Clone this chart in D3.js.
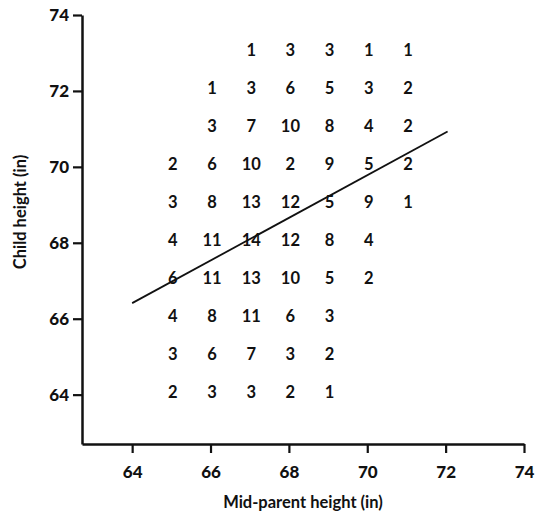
<!DOCTYPE html>
<html>
<head>
<meta charset="utf-8">
<script src="https://cdn.jsdelivr.net/npm/d3@7"></script>
<style>
  body { margin: 0; background: #fff; }
  text { font-family: Lato, "Open Sans", sans-serif; font-weight: bold; fill: #111; }
</style>
</head>
<body>
<svg id="chart" width="535" height="512"></svg>
<script>
// mid-parent heights (columns) and child heights (rows)
let parentHeights = [65, 66, 67, 68, 69, 70, 71];
let childHeights = [73, 72, 71, 70, 69, 68, 67, 66, 65, 64];

// counts per row (top to bottom), null = empty cell
let counts = [
  [null, null, 1, 3, 3, 1, 1],
  [null, 1, 3, 6, 5, 3, 2],
  [null, 3, 7, 10, 8, 4, 2],
  [2, 6, 10, 2, 9, 5, 2],
  [3, 8, 13, 12, 5, 9, 1],
  [4, 11, 14, 12, 8, 4, null],
  [6, 11, 13, 10, 5, 2, null],
  [4, 8, 11, 6, 3, null, null],
  [3, 6, 7, 3, 2, null, null],
  [2, 3, 3, 2, 1, null, null]
];

// regression line end points
let fitLine = [{x: 64, y: 66.41}, {x: 72.05, y: 70.93}];

let xTicks = [64, 66, 68, 70, 72, 74];
let yTicks = [64, 66, 68, 70, 72, 74];

let svg = d3.select('#chart');

let xScale = d3.scaleLinear()
  .domain([62.72, 74])
  .range([82, 524]);

let yScale = d3.scaleLinear()
  .domain([62.7, 74])
  .range([444, 15]);

let cells = [];
childHeights.forEach((c, i) => {
  parentHeights.forEach((p, j) => {
    if (counts[i][j] != null) cells.push({x: p, y: c, n: counts[i][j]});
  });
});

svg.append('g').selectAll('text')
  .data(cells)
  .join('text')
  .attr('x', d => xScale(d.x) + 1.5)
  .attr('y', d => yScale(d.y) - 2.5)
  .attr('text-anchor', 'middle')
  .attr('dominant-baseline', 'central')
  .style('font-size', '16.5px')
  .text(d => d.n);

let lineFn = d3.line()
  .x(d => xScale(d.x))
  .y(d => yScale(d.y));

svg.append('path')
  .attr('d', lineFn(fitLine))
  .style('fill', 'none')
  .style('stroke', '#111')
  .style('stroke-width', 1.8);

// axes
let xAxis = d3.axisBottom(xScale).tickValues(xTicks).tickSize(9).tickPadding(13).tickSizeOuter(0);
let gx = svg.append('g').attr('transform', 'translate(0, 444)').call(xAxis);

let yAxis = d3.axisLeft(yScale).tickValues(yTicks).tickSize(9).tickPadding(4).tickSizeOuter(0);
let gy = svg.append('g').attr('transform', 'translate(82, 0)').call(yAxis);

[gx, gy].forEach(g => {
  g.selectAll('path.domain').style('stroke', '#111').style('stroke-width', 2.5);
  g.selectAll('line').style('stroke', '#111').style('stroke-width', 2.2);
  g.selectAll('text')
    .style('font-size', '17px')
    .style('font-family', 'Lato, sans-serif')
    .style('font-weight', '900')
    .attr('fill', '#111');
});

svg.append('text')
  .attr('x', 303)
  .attr('y', 508)
  .attr('text-anchor', 'middle')
  .style('font-size', '16.5px')
  .text('Mid-parent height (in)');

svg.append('text')
  .attr('transform', 'translate(26, 212) rotate(-90)')
  .attr('text-anchor', 'middle')
  .style('font-size', '16.5px')
  .text('Child height (in)');
</script>
</body>
</html>
